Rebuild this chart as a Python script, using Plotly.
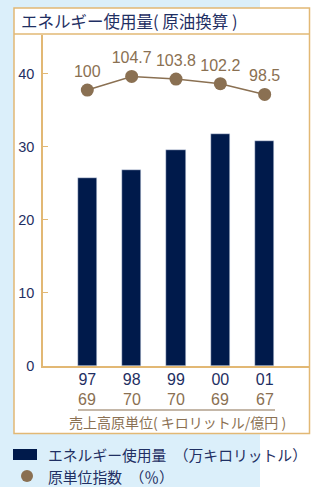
import plotly.graph_objects as go

years = ["97", "98", "99", "00", "01"]
energy = [25.7, 26.8, 29.6, 31.8, 30.8]
index_vals = [100, 104.7, 103.8, 102.2, 98.5]
index_labels = ["100", "104.7", "103.8", "102.2", "98.5"]
unit_rate = ["69", "70", "70", "69", "67"]
y_ticks = [0, 10, 20, 30, 40]
legend_names = ["エネルギー使用量　（万キロリットル）", "原単位指数　（％）"]

NAVY = "#001a4b"
BROWN = "#8a7052"
TAN = "#e2b874"
TXT_NAVY = "#1f2f63"
BLUE_BG = "#dbeffa"
JP = "Noto Sans CJK JP"
NUM = "Liberation Sans"

W, H = 326, 487
L, R, T, B = 43, 309, 35, 366

def px(x):
    return (x - L) / (R - L)

def py(y):
    return (B - y) / (B - T)

xs = list(range(len(years)))

fig = go.Figure()
fig.add_trace(go.Bar(x=xs, y=energy, marker_color=NAVY, width=0.43,
                     showlegend=False, hoverinfo="skip"))
fig.add_trace(go.Scatter(x=xs, y=index_vals, yaxis="y2", mode="lines+markers+text",
                         line=dict(color=BROWN, width=1.5),
                         marker=dict(color=BROWN, size=13),
                         text=index_labels, textposition="top center",
                         textfont=dict(family=NUM, size=16, color=BROWN),
                         showlegend=False, hoverinfo="skip", cliponaxis=False))

shapes = [
    dict(type="rect", xref="paper", yref="paper", x0=px(0), x1=px(260), y0=py(H), y1=py(0),
         fillcolor=BLUE_BG, line=dict(width=0), layer="below"),
    dict(type="rect", xref="paper", yref="paper", x0=px(14), x1=px(309.5), y0=py(433.5), y1=py(8),
         fillcolor="white", line=dict(color=TAN, width=1.5), layer="below"),
    dict(type="line", xref="paper", yref="paper", x0=px(14), x1=px(309.5), y0=py(34), y1=py(34),
         line=dict(color=TAN, width=1.5)),
    dict(type="line", xref="paper", yref="paper", x0=px(78), x1=px(275), y0=py(410), y1=py(410),
         line=dict(color=BROWN, width=1.2)),
    # legend symbols
    dict(type="rect", xref="paper", yref="paper", x0=px(13), x1=px(37), y0=py(460), y1=py(449),
         fillcolor=NAVY, line=dict(width=0)),
    dict(type="circle", xref="paper", yref="paper", x0=px(21), x1=px(33), y0=py(482), y1=py(470),
         fillcolor=BROWN, line=dict(width=0)),
]

annotations = [
    dict(text="エネルギー使用量( 原油換算 )", xref="paper", yref="paper", x=px(19), y=py(21),
         xanchor="left", yanchor="middle", showarrow=False,
         font=dict(family=JP, size=16.5, color=TXT_NAVY)),
    dict(text="売上高原単位( キロリットル/億円 )", xref="paper", yref="paper", x=px(177), y=py(422),
         xanchor="center", yanchor="middle", showarrow=False,
         font=dict(family=JP, size=14, color=BROWN)),
]
for name, yc in zip(legend_names, [454.5, 476]):
    annotations.append(dict(text=name, xref="paper", yref="paper", x=px(46), y=py(yc),
                            xanchor="left", yanchor="middle", showarrow=False,
                            font=dict(family=JP, size=14.8, color=TXT_NAVY)))
for i, v in enumerate(unit_rate):
    annotations.append(dict(text=v, x=i, xref="x", yref="paper", y=py(399),
                            xanchor="center", yanchor="middle", showarrow=False,
                            font=dict(family=NUM, size=16, color=BROWN)))

fig.update_layout(
    width=W, height=H,
    margin=dict(l=L, r=W - R, t=T, b=H - B, pad=0),
    paper_bgcolor="white", plot_bgcolor="rgba(0,0,0,0)",
    xaxis=dict(range=[-1, 5], tickvals=xs, ticktext=years, ticks="",
               tickfont=dict(family=NUM, size=16, color=TXT_NAVY),
               showline=True, linecolor=TAN, linewidth=1.5, showgrid=False, zeroline=False,
               fixedrange=True, ticklabelstandoff=-2),
    yaxis=dict(range=[0, 45.3], tickvals=y_ticks, ticks="inside", ticklen=5, tickcolor=TAN,
               tickfont=dict(family=NUM, size=14.5, color=TXT_NAVY),
               showline=True, linecolor=TAN, linewidth=1.5, showgrid=False, zeroline=False,
               ticklabelstandoff=4),
    yaxis2=dict(range=[4.8, 119], overlaying="y", visible=False),
    shapes=shapes, annotations=annotations,
    bargap=0,
)

fig.write_html("out.html")
